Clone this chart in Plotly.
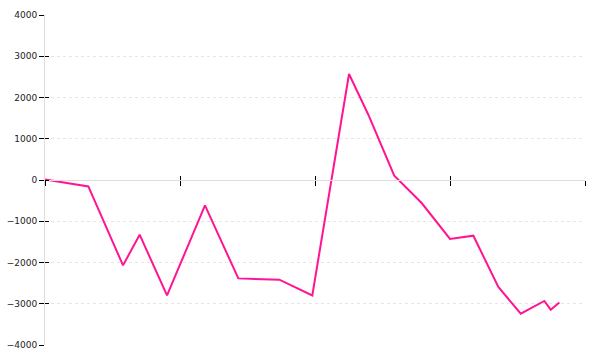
import plotly.graph_objects as go

x_vals = [0.0, 0.321, 0.578, 0.701, 0.904, 1.185, 1.432, 1.736, 1.980, 2.252,
          2.395, 2.587, 2.790, 3.000, 3.173, 3.358, 3.524, 3.699, 3.746, 3.810]
y_vals = [10, -155, -2070, -1326, -2798, -616, -2385, -2417, -2798, 2570,
          1583, 104, -558, -1430, -1350, -2594, -3241, -2933, -3144, -2967]
y_ticks = [-4000, -3000, -2000, -1000, 0, 1000, 2000, 3000, 4000]
x_ticks = [0, 1, 2, 3, 4]

fig = go.Figure()
# invisible helper trace so the overlay axes (inner tick halves) are drawn
fig.add_trace(go.Scatter(x=x_vals, y=y_vals, mode="lines", xaxis="x2", yaxis="y2",
                         line=dict(color="rgba(0,0,0,0)", width=0),
                         showlegend=False, hoverinfo="skip"))
fig.add_trace(go.Scatter(x=x_vals, y=y_vals, mode="lines",
                         line=dict(color="#ff1493", width=2), showlegend=False,
                         hoverinfo="skip"))

yr = [-4000, 4000]
xr = [0, 4]
font = dict(family="DejaVu Sans", size=9, color="#222222")

fig.update_layout(
    width=600, height=360,
    margin=dict(l=45, r=15, t=15, b=15),
    paper_bgcolor="white", plot_bgcolor="white",
    xaxis=dict(range=xr, tickvals=x_ticks, showticklabels=False,
               ticks="outside", ticklen=5, tickcolor="#000", tickwidth=1,
               showline=True, linecolor="#dddddd", linewidth=1,
               showgrid=False, zeroline=False, automargin=False,
               anchor="free", position=0.5),
    xaxis2=dict(range=xr, tickvals=x_ticks, showticklabels=False,
                ticks="inside", ticklen=4, tickcolor="#000", tickwidth=1,
                showline=False, showgrid=False, zeroline=False, automargin=False,
                overlaying="x", anchor="free", position=0.5, side="bottom"),
    yaxis=dict(range=yr, tickvals=y_ticks, tickfont=font,
               ticks="outside", ticklen=5, tickcolor="#000", tickwidth=1,
               showline=True, linecolor="#dddddd", linewidth=1,
               showgrid=True, gridcolor="#e6e6e6", griddash="3px,3px",
               gridwidth=1, zeroline=False, automargin=False),
    yaxis2=dict(range=yr, tickvals=y_ticks, showticklabels=False,
                ticks="inside", ticklen=4, tickcolor="#000", tickwidth=1,
                showline=False, showgrid=False, zeroline=False, automargin=False,
                overlaying="y", side="left", anchor="x"),
)

fig.write_html("out.html")
